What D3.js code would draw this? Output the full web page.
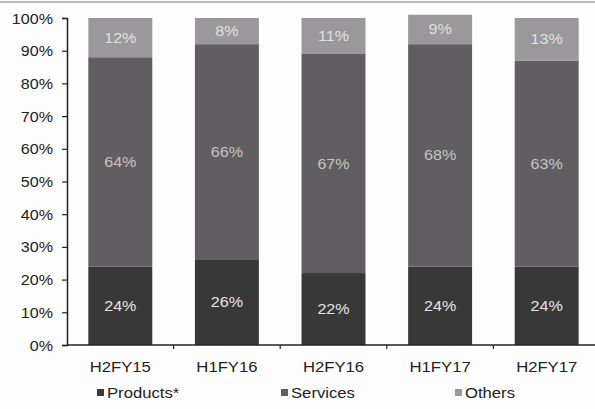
<!DOCTYPE html>
<html>
<head>
<meta charset="utf-8">
<script src="https://cdn.jsdelivr.net/npm/d3@7"></script>
<style>
  html, body { margin: 0; padding: 0; background: #fdfdfd; }
  svg { display: block; }
  text { font-family: "Liberation Sans", Arial, sans-serif; }
</style>
</head>
<body>
<svg id="chart" width="595" height="409"></svg>
<script>
// Revenue mix by half-year (%)
const periods  = ["H2FY15", "H1FY16", "H2FY16", "H1FY17", "H2FY17"];
const products = [24, 26, 22, 24, 24];
const services = [64, 66, 67, 68, 63];
const others   = [12, 8, 11, 9, 13];
const seriesNames = ["Products*", "Services", "Others"];
const yTicks = [0, 10, 20, 30, 40, 50, 60, 70, 80, 90, 100];

const rows = periods.map((p, i) => ({
  period: p, "Products*": products[i], "Services": services[i], "Others": others[i]
}));

const colors = { "Products*": "#383838", "Services": "#605e60", "Others": "#9a989a" };
const labelColors = { "Products*": "#e4e4e4", "Services": "#c4c4c4", "Others": "#e0e0e0" };
const SX = 1.15; // horizontal stretch of the typeface

// place a text at (px, py) with the wide letterforms
function wide(sel, px, py) {
  return sel.attr("x", 0).attr("y", 0)
    .attr("transform", (d, i) => {
      const X = typeof px === "function" ? px(d, i) : px;
      const Y = typeof py === "function" ? py(d, i) : py;
      return `translate(${X},${Y}) scale(${SX},1)`;
    });
}

const svg = d3.select("#chart");

// faint rule along the top edge of the page
svg.append("line").attr("x1", 0).attr("x2", 595).attr("y1", 2).attr("y2", 2)
  .attr("stroke", "#b8b8c0").attr("stroke-width", 2);

const x = d3.scaleBand().domain(periods).range([67, 600]).paddingInner(0.4).paddingOuter(0.2);
const y = d3.scaleLinear().domain([0, 100]).range([345, 18]);

const layers = d3.stack().keys(seriesNames)(rows);

const g = svg.append("g");
layers.forEach(layer => {
  const key = layer.key;
  g.selectAll(null).data(layer).enter().append("rect")
    .attr("x", d => x(d.data.period))
    .attr("width", x.bandwidth())
    .attr("y", d => y(d[1]))
    .attr("height", d => y(d[0]) - y(d[1]))
    .attr("fill", colors[key]);
  wide(g.selectAll(null).data(layer).enter().append("text"),
       d => x(d.data.period) + x.bandwidth() / 2,
       d => (y(d[0]) + y(d[1])) / 2 + 5)
    .attr("text-anchor", "middle")
    .attr("font-size", 14)
    .attr("fill", labelColors[key])
    .text(d => d.data[key] + "%");
});

// y axis
const yAxis = d3.axisLeft(y).tickValues(yTicks).tickFormat(d => d + "%").tickSize(5);
const ya = svg.append("g").attr("transform", "translate(67,0)").call(yAxis);
ya.select(".domain").attr("stroke", "#222").attr("stroke-width", 1.5);
ya.selectAll(".tick line").attr("stroke", "#222").attr("stroke-width", 1.2);
ya.selectAll(".tick text")
  .attr("x", 0).attr("dy", null).attr("y", 5)
  .attr("transform", `translate(-14,0) scale(${SX},1)`)
  .attr("font-size", 14).attr("fill", "#222")
  .attr("font-family", "Liberation Sans, Arial, sans-serif");

// x axis
const xa = svg.append("g").attr("transform", "translate(0,345)");
xa.append("line").attr("x1", 67).attr("x2", 600).attr("y1", 0).attr("y2", 0)
  .attr("stroke", "#222").attr("stroke-width", 1.5);
periods.slice(1).forEach(p => {
  const bx = x(p) - x.step() * x.paddingInner() / 2;
  xa.append("line").attr("x1", bx).attr("x2", bx).attr("y1", 0).attr("y2", 4)
    .attr("stroke", "#222").attr("stroke-width", 1.2);
});
wide(xa.selectAll("text.cat").data(periods).enter().append("text").attr("class", "cat"),
     d => x(d) + x.bandwidth() / 2, 27)
  .attr("text-anchor", "middle")
  .attr("font-size", 14.5)
  .attr("fill", "#222")
  .text(d => d);

// legend
const legendX = [97, 281, 455];
const lg = svg.append("g");
seriesNames.forEach((name, i) => {
  const item = lg.append("g").attr("transform", `translate(${legendX[i]},393)`);
  item.append("rect").attr("x", 0).attr("y", -4).attr("width", 7).attr("height", 7)
    .attr("fill", colors[name]);
  wide(item.append("text"), 10, 5)
    .attr("font-size", 14.5).attr("fill", "#222")
    .text(name);
});
</script>
</body>
</html>
